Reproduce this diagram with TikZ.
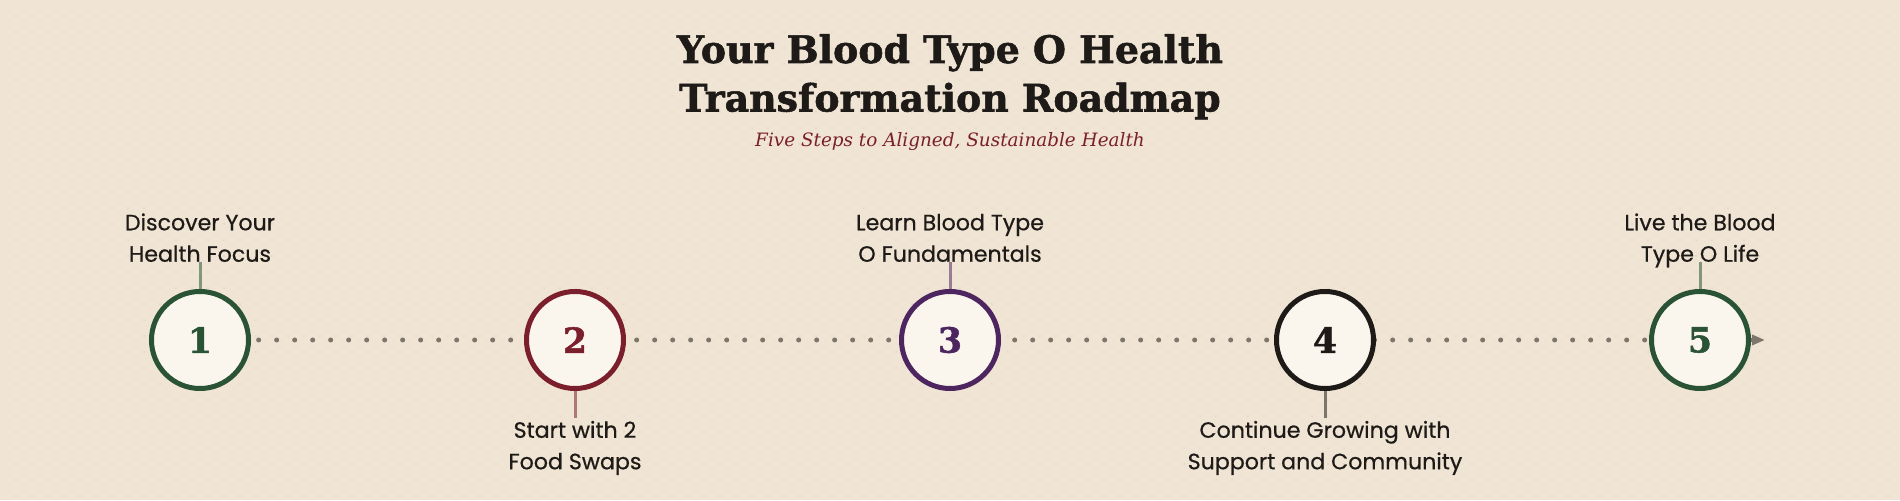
\documentclass[tikz,border=0pt]{standalone}
\usepackage{fontspec}
\setmainfont{Poppins}
\newfontfamily\labelfont[FakeBold=0.6]{Poppins}
\newfontfamily\slabfont[FakeBold=1.4]{DejaVu Serif}
\newfontfamily\subfont{DejaVu Serif}
\usetikzlibrary{arrows.meta,backgrounds}

\definecolor{paper}{HTML}{F0E5D4}
\definecolor{gridpt}{HTML}{E6D9C6}
\definecolor{disc}{HTML}{FAF6EE}
\definecolor{ink}{HTML}{1E1A17}
\definecolor{trailgray}{HTML}{7E756C}
\definecolor{sage}{HTML}{2A5235}
\definecolor{wine}{HTML}{7A1F2B}
\definecolor{plum}{HTML}{4D2660}
\definecolor{coal}{HTML}{1E1A17}

\begin{document}
\begin{tikzpicture}[x=0.75pt,y=0.75pt,
    stepdisc/.style={circle, draw=#1, fill=disc, line width=3.75pt,
      minimum size=72.75pt, inner sep=0pt, text=#1,
      font=\slabfont\bfseries\fontsize{26}{26}\selectfont},
    toplabel/.style={anchor=south, align=center, inner sep=0pt,
      text depth=0pt, text=ink, font=\labelfont\fontsize{16.6}{23.6}\selectfont},
    botlabel/.style={anchor=north, align=center, inner xsep=0pt,
      inner ysep=2pt, text=ink, font=\labelfont\fontsize{16.6}{23.6}\selectfont},
    stem/.style={draw=#1!55!paper, line width=2.25pt}]

    \useasboundingbox (0,0) rectangle (1900,500);

    % title
    \node[anchor=base, text=ink, font=\slabfont\bfseries\fontsize{28.4}{36}\selectfont]
      (title1) at (950,437) {Your Blood Type O Health};
    \node[anchor=base, text=ink, font=\slabfont\bfseries\fontsize{28.4}{36}\selectfont]
      (title2) at (950,388.5) {Transformation Roadmap};
    \node[anchor=base, text=wine, font=\subfont\itshape\fontsize{13.8}{16}\selectfont]
      (subtitle) at (950,353) {Five Steps to Aligned, Sustainable Health};

    % steps
    \node[stepdisc=sage] (s1) at (200,160) {1};
    \node[stepdisc=wine] (s2) at (575,160) {2};
    \node[stepdisc=plum] (s3) at (950,160) {3};
    \node[stepdisc=coal] (s4) at (1325,160) {4};
    \node[stepdisc=sage] (s5) at (1700,160) {5};
    \coordinate (tip) at (1765,160);

    \node[toplabel] (l1) at (200,238) {Discover Your\\Health Focus};
    \node[botlabel] (l2) at (575,82) {Start with 2\\Food Swaps};
    \node[toplabel] (l3) at (950,238) {Learn Blood Type\\O Fundamentals};
    \node[botlabel] (l4) at (1325,82) {Continue Growing with\\Support and Community};
    \node[toplabel] (l5) at (1700,238) {Live the Blood\\Type O Life};

    \begin{scope}[on background layer]
        \fill[paper] (0,0) rectangle (1900,500);
        \foreach \gx in {16,32,...,1888}
            \foreach \gy in {4,20,...,484}
                \fill[gridpt] (\gx-1,\gy-1) rectangle ++(2,2);

        \draw[trailgray, line width=3.75pt, line cap=round,
          dash pattern=on 0pt off 13.5pt, dash phase=10pt,
          -{Triangle[length=9.75pt,width=7.5pt]}] (s1.center) -- (tip);

        \draw[stem=sage] (l1.south) -- (s1.north);
        \draw[stem=wine] (s2.south) -- (l2.north);
        \draw[stem=plum] (l3.south) -- (s3.north);
        \draw[stem=coal] (s4.south) -- (l4.north);
        \draw[stem=sage] (l5.south) -- (s5.north);
    \end{scope}
\end{tikzpicture}
\end{document}
